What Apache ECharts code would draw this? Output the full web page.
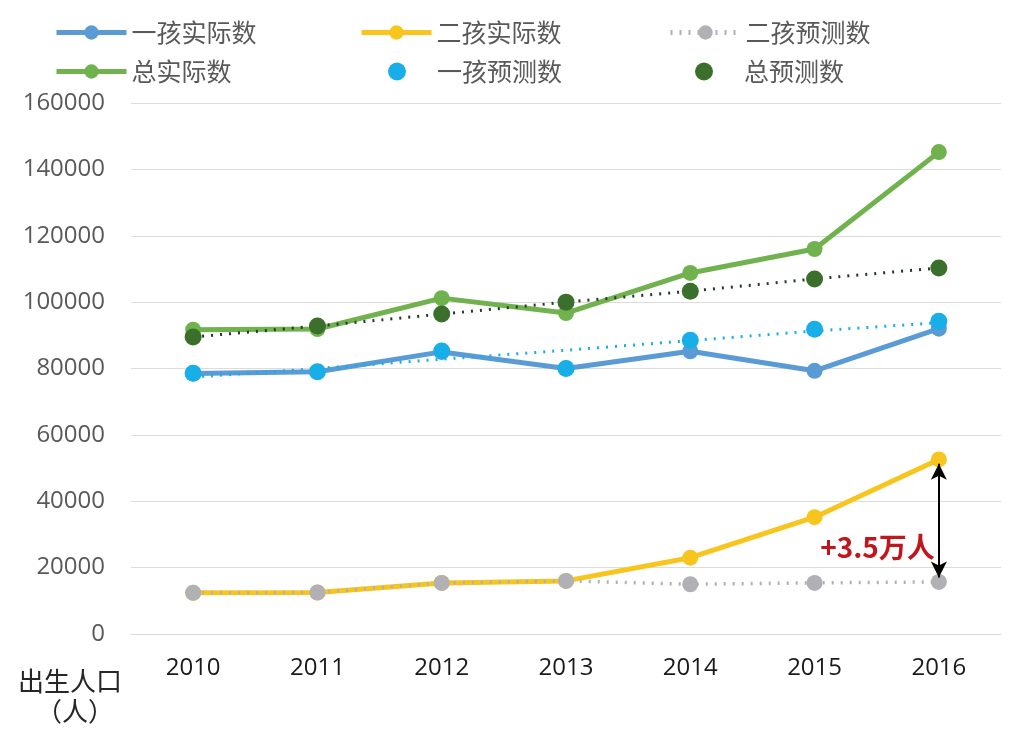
<!DOCTYPE html>
<html><head><meta charset="utf-8">
<script src="https://cdn.jsdelivr.net/npm/echarts@6/dist/echarts.min.js"></script>
<style>html,body{margin:0;padding:0;background:#fff}#c{width:1016px;height:742px}</style>
</head><body><div id="c"></div>
<script>
const years = ['2010','2011','2012','2013','2014','2015','2016'];
const firstActual = [78500, 79000, 85000, 80000, 85200, 79300, 92000];
const secondActual = [12400, 12500, 15400, 16000, 23000, 35200, 52600];
const secondPred = [12400, 12500, 15400, 16000, 15000, 15400, 15700];
const totalActual = [91700, 91900, 101200, 96700, 108800, 116000, 145200];
const firstPredDots = [78600, 79000, 85300, 80000, 88500, 91800, 94200];
const firstPredTrend = [77400, 80000, 82800, 85500, 88400, 91300, 93800];
const totalPred = [89500, 92800, 96400, 100000, 103300, 107000, 110300];
const yTicks = {min: 0, max: 160000, interval: 20000};
const annotRange = [51300, 17000];
const annotLabelValue = 26200;
const annotText = '+3.5万人';

const CJK = '"Noto Sans CJK SC", "Noto Sans", sans-serif';
const NUM = '"Open Sans", "Noto Sans", sans-serif';
const C = {blue:'#5B9BD5', yellow:'#F7C51E', gray:'#B0B0B5', green:'#70B24E', cyan:'#18AEE8', dgreen:'#3A6F2C'};

const chart = echarts.init(document.getElementById('c'));
const legendBase = {itemWidth: 70, itemHeight: 18, itemGap: 6,
  lineStyle: {width: 5},
  textStyle: {fontFamily: CJK, fontSize: 25, color: '#595959'}, selectedMode: false};
function lg(name, left, top){ return Object.assign({}, legendBase, {data:[name], left, top}); }

chart.setOption({
  animation: false,
  backgroundColor: '#fff',
  legend: [
    lg('一孩实际数', 49, 15), lg('二孩实际数', 354, 15), lg('二孩预测数', 663, 15),
    lg('总实际数', 49, 54), lg('一孩预测数', 383, 54), lg('总预测数', 690, 54)
  ],
  grid: {left: 131, right: 15, top: 103, bottom: 108},
  xAxis: {type: 'category', data: years, boundaryGap: true,
    axisLine: {show: true, lineStyle: {color: '#D9D9D9', width: 1}}, axisTick: {show: false},
    axisLabel: {fontFamily: NUM, fontSize: 24, color: '#1a1a1a', margin: 22}},
  yAxis: {type: 'value', min: yTicks.min, max: yTicks.max, interval: yTicks.interval,
    axisLine: {show: false}, axisTick: {show: false},
    splitLine: {lineStyle: {color: '#DCDCDC', width: 1}},
    axisLabel: {fontFamily: NUM, fontSize: 24, color: '#595959', margin: 26,
      formatter: v => String(v)}},
  graphic: [
    {type: 'text', left: 18, top: 668, style: {text: '出生人口', fontFamily: CJK, fontSize: 26, fill: '#262626'}},
    {type: 'text', left: 36, top: 698, style: {text: '（人）', fontFamily: CJK, fontSize: 26, fill: '#262626'}}
  ],
  series: [
    {name: '一孩实际数', type: 'line', data: firstActual, symbol: 'circle', symbolSize: 16,
      lineStyle: {color: C.blue, width: 5}, itemStyle: {color: C.blue}, z: 2},
    {name: '一孩预测趋势', type: 'line', data: firstPredTrend, symbol: 'none',
      lineStyle: {color: C.cyan, width: 3, type: [2, 7]}, z: 3},
    {name: '一孩预测数', type: 'scatter', data: firstPredDots, symbol: 'circle', symbolSize: 17,
      itemStyle: {color: C.cyan, opacity: 1}, z: 4},
    {name: '总实际数', type: 'line', data: totalActual, symbol: 'circle', symbolSize: 16,
      lineStyle: {color: C.green, width: 5}, itemStyle: {color: C.green}, z: 2},
    {name: '总预测趋势', type: 'line', data: totalPred, symbol: 'none',
      lineStyle: {color: '#263a26', width: 3, type: [2, 7]}, z: 3},
    {name: '总预测数', type: 'scatter', data: totalPred, symbol: 'circle', symbolSize: 17,
      itemStyle: {color: C.dgreen, opacity: 1}, z: 4},
    {name: '二孩实际数', type: 'line', data: secondActual, symbol: 'circle', symbolSize: 16,
      lineStyle: {color: C.yellow, width: 5}, itemStyle: {color: C.yellow}, z: 2,
      markLine: {silent: true, symbol: ['arrow', 'arrow'], symbolSize: [12, 16],
        lineStyle: {color: '#000', width: 2, type: 'solid'}, label: {show: false},
        data: [[{coord: ['2016', annotRange[0]]}, {coord: ['2016', annotRange[1]]}]]},
      markPoint: {silent: true, symbol: 'circle', symbolSize: 0,
        label: {show: true, position: 'left', distance: 4, formatter: annotText,
          fontFamily: CJK, fontSize: 28, fontWeight: 'bold', color: '#C0171C'},
        data: [{coord: ['2016', annotLabelValue]}]}},
    {name: '二孩预测数', type: 'line', data: secondPred, symbol: 'circle', symbolSize: 16,
      lineStyle: {color: C.gray, width: 3.5, type: [2, 7]}, itemStyle: {color: C.gray}, z: 3}
  ]
});
</script></body></html>
